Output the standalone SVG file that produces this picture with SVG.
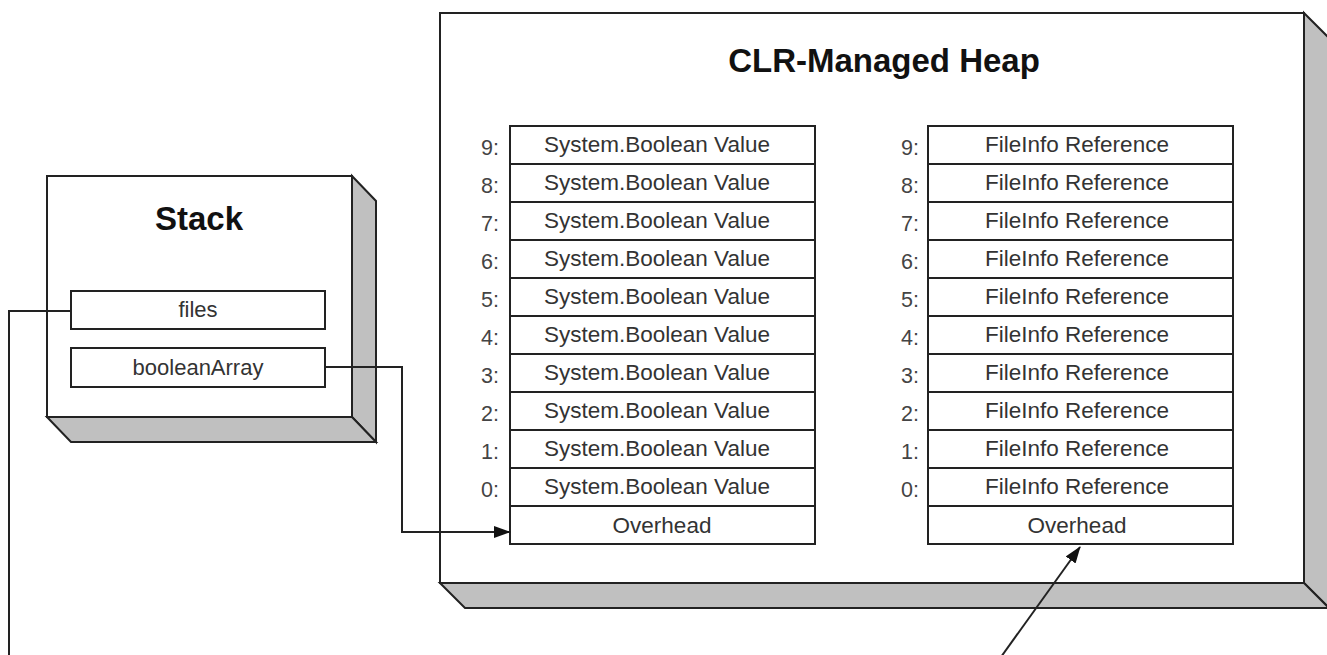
<svg xmlns="http://www.w3.org/2000/svg" width="1327" height="655" viewBox="0 0 1327 655">
<defs>
<style>
.ln{fill:none;stroke:#222;stroke-width:2}
.front{fill:#fff;stroke:#222;stroke-width:2}
.side{fill:#c0c0c0;stroke:#222;stroke-width:2;stroke-linejoin:miter}
.cell{fill:#fff;stroke:#222;stroke-width:2}
.title{font-family:"Liberation Sans",Arial,sans-serif;font-weight:bold;font-size:33px;fill:#111;text-anchor:middle}
.ct{font-family:"Liberation Sans",Arial,sans-serif;font-size:22.5px;fill:#333;text-anchor:middle}
.st{font-family:"Liberation Sans",Arial,sans-serif;font-size:22px;fill:#333;text-anchor:middle}
.ix{font-family:"Liberation Sans",Arial,sans-serif;font-size:21.5px;fill:#444;text-anchor:end}
</style>
<marker id="ah" markerWidth="17" markerHeight="12" refX="16" refY="6" orient="auto" markerUnits="userSpaceOnUse">
<path d="M0,0 L17,6 L0,12 Z" fill="#111"/>
</marker>
</defs>
<rect width="1327" height="655" fill="#fff"/>

<g id="heap">
<rect class="front" x="440" y="13" width="864" height="570"/>
<polygon class="side" points="1304,13 1329,38 1329,608 1304,583"/>
<polygon class="side" points="440,583 465,608 1329,608 1304,583"/>
<text class="title" x="884" y="72">CLR-Managed Heap</text>
</g>

<g id="bool-array">
<rect class="cell" x="510" y="126" width="305" height="38"/>
<rect class="cell" x="510" y="164" width="305" height="38"/>
<rect class="cell" x="510" y="202" width="305" height="38"/>
<rect class="cell" x="510" y="240" width="305" height="38"/>
<rect class="cell" x="510" y="278" width="305" height="38"/>
<rect class="cell" x="510" y="316" width="305" height="38"/>
<rect class="cell" x="510" y="354" width="305" height="38"/>
<rect class="cell" x="510" y="392" width="305" height="38"/>
<rect class="cell" x="510" y="430" width="305" height="38"/>
<rect class="cell" x="510" y="468" width="305" height="38"/>
<rect class="cell" x="510" y="506" width="305" height="38"/>
<text class="ct" x="657" y="152">System.Boolean Value</text>
<text class="ct" x="657" y="190">System.Boolean Value</text>
<text class="ct" x="657" y="228">System.Boolean Value</text>
<text class="ct" x="657" y="266">System.Boolean Value</text>
<text class="ct" x="657" y="304">System.Boolean Value</text>
<text class="ct" x="657" y="342">System.Boolean Value</text>
<text class="ct" x="657" y="380">System.Boolean Value</text>
<text class="ct" x="657" y="418">System.Boolean Value</text>
<text class="ct" x="657" y="456">System.Boolean Value</text>
<text class="ct" x="657" y="494">System.Boolean Value</text>
<text class="ct" x="662" y="533">Overhead</text>
<text class="ix" x="499" y="155">9:</text>
<text class="ix" x="499" y="193">8:</text>
<text class="ix" x="499" y="231">7:</text>
<text class="ix" x="499" y="269">6:</text>
<text class="ix" x="499" y="307">5:</text>
<text class="ix" x="499" y="345">4:</text>
<text class="ix" x="499" y="383">3:</text>
<text class="ix" x="499" y="421">2:</text>
<text class="ix" x="499" y="459">1:</text>
<text class="ix" x="499" y="497">0:</text>
</g>

<g id="fileinfo-array">
<rect class="cell" x="928" y="126" width="305" height="38"/>
<rect class="cell" x="928" y="164" width="305" height="38"/>
<rect class="cell" x="928" y="202" width="305" height="38"/>
<rect class="cell" x="928" y="240" width="305" height="38"/>
<rect class="cell" x="928" y="278" width="305" height="38"/>
<rect class="cell" x="928" y="316" width="305" height="38"/>
<rect class="cell" x="928" y="354" width="305" height="38"/>
<rect class="cell" x="928" y="392" width="305" height="38"/>
<rect class="cell" x="928" y="430" width="305" height="38"/>
<rect class="cell" x="928" y="468" width="305" height="38"/>
<rect class="cell" x="928" y="506" width="305" height="38"/>
<text class="ct" x="1077" y="152">FileInfo Reference</text>
<text class="ct" x="1077" y="190">FileInfo Reference</text>
<text class="ct" x="1077" y="228">FileInfo Reference</text>
<text class="ct" x="1077" y="266">FileInfo Reference</text>
<text class="ct" x="1077" y="304">FileInfo Reference</text>
<text class="ct" x="1077" y="342">FileInfo Reference</text>
<text class="ct" x="1077" y="380">FileInfo Reference</text>
<text class="ct" x="1077" y="418">FileInfo Reference</text>
<text class="ct" x="1077" y="456">FileInfo Reference</text>
<text class="ct" x="1077" y="494">FileInfo Reference</text>
<text class="ct" x="1077" y="533">Overhead</text>
<text class="ix" x="919" y="155">9:</text>
<text class="ix" x="919" y="193">8:</text>
<text class="ix" x="919" y="231">7:</text>
<text class="ix" x="919" y="269">6:</text>
<text class="ix" x="919" y="307">5:</text>
<text class="ix" x="919" y="345">4:</text>
<text class="ix" x="919" y="383">3:</text>
<text class="ix" x="919" y="421">2:</text>
<text class="ix" x="919" y="459">1:</text>
<text class="ix" x="919" y="497">0:</text>
</g>

<g id="stack">
<rect class="front" x="47" y="176" width="305" height="241"/>
<polygon class="side" points="352,176 376,201 376,442 352,417"/>
<polygon class="side" points="47,417 71,442 376,442 352,417"/>
<text class="title" x="199" y="230">Stack</text>
</g>

<g id="files">
<rect class="cell" x="71" y="291" width="254" height="38"/>
<text class="st" x="198" y="317">files</text>
</g>

<g id="booleanArray">
<rect class="cell" x="71" y="348" width="254" height="39"/>
<text class="st" x="198" y="375">booleanArray</text>
</g>

<g id="connectors">
<polyline class="ln" points="71,311 9,311 9,656"/>
<polyline class="ln" points="325,367 402,367 402,532 510,532" marker-end="url(#ah)"/>
<line class="ln" x1="1001" y1="657" x2="1080" y2="547" marker-end="url(#ah)"/>
</g>
</svg>
